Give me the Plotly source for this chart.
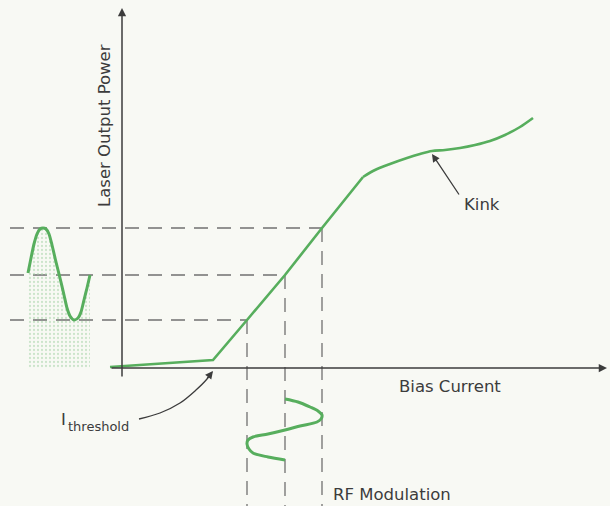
import plotly.graph_objects as go

# ---- data (arbitrary units: current along x, optical power along y) ----
# linear part of the L-I characteristic (below threshold and lasing slope)
lin_current = [-12, 91, 125, 163, 200, 241]
lin_power = [1, 8, 48, 93, 140, 191]
# saturating part with the kink
sat_current = [241, 253, 268, 285, 298, 310, 323, 338, 353, 368, 383, 398, 411]
sat_power = [191, 198, 204, 210, 214, 217, 218, 220, 223, 227, 233, 241, 250]

# operating points of the modulation (bias current -> output power)
mod_current = [125, 163, 200]
mod_power = [48, 93, 140]

# optical output waveform (left), time along x, power along y
opt_time = [-94, -91, -88, -85, -82, -79, -76, -73, -70, -66, -62, -58, -55, -52, -48, -44, -41, -38, -35, -32]
opt_power = [95, 110, 124, 134, 139, 140, 139, 134, 123, 106, 90, 73, 60, 52, 48, 50, 56, 68, 80, 93]

# RF modulation waveform (bottom), current along x, time along y
rf_current = [163, 176, 188, 196, 200, 199, 195, 178, 163, 146, 131, 126, 125, 127, 131, 146, 163]
rf_time = [-31, -34, -39, -43, -47, -51, -54, -58, -62, -66, -69, -72, -76, -81, -85, -89, -92]

# label texts
y_title = "Laser Output Power"
x_title = "Bias Current"
kink_label = "Kink"
thr_main, thr_sub = "I", "threshold"
rf_label = "RF Modulation"

# ---- style ----
GREEN = "#57ae5d"
INK = "#3c3c3c"
DASH = "#707070"
BG = "#f8f9f4"
FONT = "DejaVu Sans"

fig = go.Figure()

# dashed projection lines
for c, p in zip(mod_current, mod_power):
    fig.add_trace(go.Scatter(x=[-112, c], y=[p, p], mode="lines",
                             line=dict(color=DASH, width=1.3, dash="14px,9px"),
                             hoverinfo="skip", showlegend=False))
    fig.add_trace(go.Scatter(x=[c, c], y=[p, -140], mode="lines",
                             line=dict(color=DASH, width=1.3, dash="14px,9px"),
                             hoverinfo="skip", showlegend=False))

# optical waveform with stippled area beneath
fig.add_trace(go.Scatter(
    x=opt_time, y=opt_power, mode="lines",
    line=dict(color=GREEN, width=3, shape="spline", smoothing=0.6),
    fill="tozeroy", fillcolor="rgba(0,0,0,0)",
    fillpattern=dict(shape=".", fgcolor="#9fcfa1", bgcolor="rgba(0,0,0,0)",
                     size=4, solidity=0.25),
    hoverinfo="skip", showlegend=False))

# RF modulation waveform
fig.add_trace(go.Scatter(x=rf_current, y=rf_time, mode="lines",
                         line=dict(color=GREEN, width=3, shape="spline", smoothing=0.9),
                         hoverinfo="skip", showlegend=False))

# threshold pointer curve
thr_x = [17, 38, 58, 74, 85, 90]
thr_y = [-51, -45, -35, -22, -11, -4]
fig.add_trace(go.Scatter(x=thr_x, y=thr_y, mode="lines",
                         line=dict(color=INK, width=1.3, shape="spline"),
                         hoverinfo="skip", showlegend=False))

# L-I curve
fig.add_trace(go.Scatter(x=lin_current, y=lin_power, mode="lines",
                         line=dict(color=GREEN, width=2.6),
                         hoverinfo="skip", showlegend=False))
fig.add_trace(go.Scatter(x=sat_current, y=sat_power, mode="lines",
                         line=dict(color=GREEN, width=2.6, shape="spline", smoothing=0.8),
                         hoverinfo="skip", showlegend=False))

annotations = [
    # axes
    dict(x=485, y=0, ax=-12, ay=0, xref="x", yref="y", axref="x", ayref="y",
         text="", showarrow=True, arrowhead=2, arrowsize=1.1, arrowwidth=1.5,
         arrowcolor=INK, standoff=0),
    dict(x=0, y=360, ax=0, ay=-10, xref="x", yref="y", axref="x", ayref="y",
         text="", showarrow=True, arrowhead=2, arrowsize=1.1, arrowwidth=1.5,
         arrowcolor=INK, standoff=0),
    # kink pointer
    dict(x=310, y=214, ax=338, ay=172, xref="x", yref="y", axref="x", ayref="y",
         text="", showarrow=True, arrowhead=2, arrowsize=1.2, arrowwidth=1.3,
         arrowcolor=INK, standoff=0),
    # threshold pointer head
    dict(x=91, y=-3, ax=84, ay=-12, xref="x", yref="y", axref="x", ayref="y",
         text="", showarrow=True, arrowhead=2, arrowsize=1.2, arrowwidth=1.3,
         arrowcolor=INK, standoff=0),
    # labels
    dict(x=-18, y=242, xref="x", yref="y", text=y_title, textangle=-90,
         showarrow=False, font=dict(family=FONT, size=16.5, color=INK)),
    dict(x=275, y=-18, xref="x", yref="y", text=x_title, xanchor="left",
         showarrow=False, font=dict(family=FONT, size=16.5, color=INK)),
    dict(x=340, y=164, xref="x", yref="y", text=kink_label, xanchor="left",
         showarrow=False, font=dict(family=FONT, size=16.5, color=INK)),
    dict(x=-63, y=-51, xref="x", yref="y", text=thr_main, xanchor="left",
         showarrow=False, font=dict(family=FONT, size=16.5, color=INK)),
    dict(x=-56, y=-58, xref="x", yref="y", text=thr_sub, xanchor="left",
         showarrow=False, font=dict(family=FONT, size=13, color=INK)),
    dict(x=209, y=-126, xref="x", yref="y", text=rf_label, xanchor="left",
         showarrow=False, font=dict(family=FONT, size=16.5, color=INK)),
]

fig.update_layout(
    width=610, height=506,
    margin=dict(l=0, r=0, t=0, b=0),
    paper_bgcolor=BG, plot_bgcolor=BG,
    xaxis=dict(range=[-122, 488], visible=False, fixedrange=True),
    yaxis=dict(range=[-138, 368], visible=False, fixedrange=True),
    annotations=annotations,
    showlegend=False,
)

fig.write_html(
    "out.html",
    config={"displayModeBar": False},
    post_script="document.body.style.margin='0';document.body.style.overflow='hidden';"
                "document.documentElement.style.background='" + BG + "';",
)
